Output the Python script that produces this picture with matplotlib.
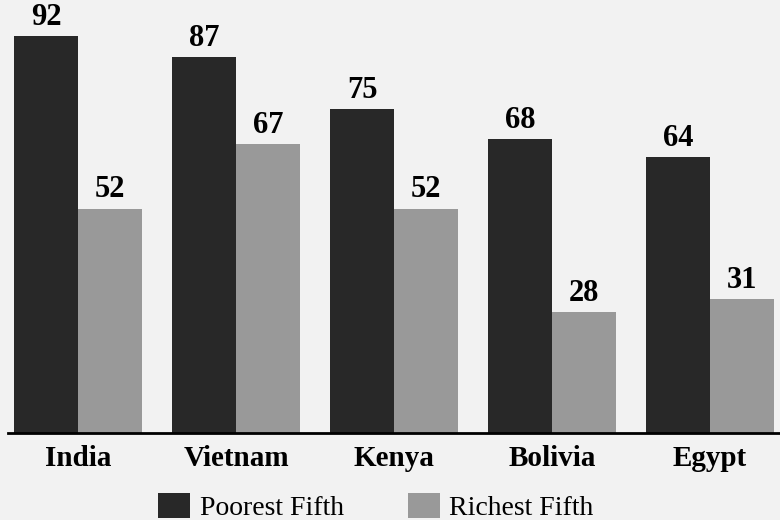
import matplotlib.pyplot as plt
import numpy as np

countries = ['India', 'Vietnam', 'Kenya', 'Bolivia', 'Egypt']
poorest = [92, 87, 75, 68, 64]
richest = [52, 67, 52, 28, 31]

bg = '#f2f2f2'
dark = '#282828'
grey = '#999999'

plt.rcParams['font.family'] = ['Liberation Serif', 'DejaVu Serif']

fig = plt.figure(figsize=(7.8, 5.2), dpi=100, facecolor=bg)
ax = fig.add_axes([8 / 780, 87 / 520, 772 / 780, 433 / 520], facecolor=bg)

x = np.arange(len(countries))
w = 0.405
b1 = ax.bar(x - w / 2, poorest, w, color=dark, label='Poorest Fifth')
b2 = ax.bar(x + w / 2, richest, w, color=grey, label='Richest Fifth')
for bars in (b1, b2):
    ax.bar_label(bars, padding=3, fontsize=22, fontweight='bold', clip_on=False)

ax.set_xlim(-0.443, 4.443)
ax.set_ylim(0, 100.3)
ax.set_xticks(x)
ax.set_xticklabels(countries, fontsize=21, fontweight='bold')
ax.tick_params(axis='x', length=0, pad=9)
ax.set_yticks([])
for s in ['top', 'right', 'left']:
    ax.spines[s].set_visible(False)
ax.spines['bottom'].set_linewidth(2)
ax.spines['bottom'].set_color('black')

fig.legend(handles=[b1, b2], loc='upper center', bbox_to_anchor=(0.482, 0.078),
           ncol=2, frameon=False, fontsize=20, borderpad=0, handlelength=1.15,
           handleheight=1.0, handletextpad=0.35, columnspacing=2.3)

fig.savefig('out.png', facecolor=bg)
